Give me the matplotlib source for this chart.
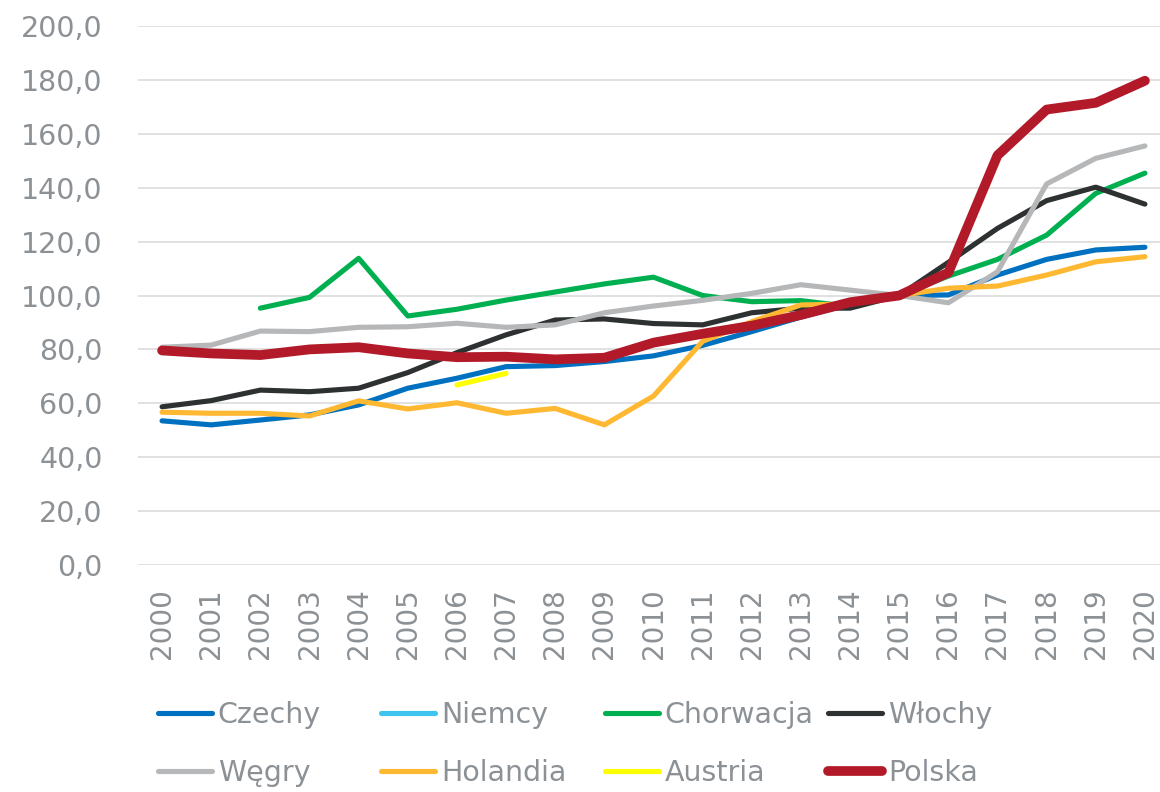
import matplotlib
matplotlib.use("Agg")
import matplotlib.pyplot as plt
import numpy as np

nan = np.nan
years = [str(y) for y in range(2000, 2021)]

czechy = [53.5, 52.0, 53.8, 55.7, 59.4, 65.6, 69.3, 73.6, 74.0, 75.5, 77.6,
          81.5, 86.6, 92.0, 96.8, 100.0, 100.2, 107.6, 113.4, 116.9, 117.9]
niemcy = [nan] * 21
chorwacja = [nan, nan, 95.3, 99.3, 113.8, 92.4, 94.9, 98.3, 101.3, 104.3, 106.8,
             100.0, 97.7, 98.1, 95.9, 100.0, 107.2, 113.4, 122.4, 137.9, 145.4]
wlochy = [58.7, 61.0, 64.9, 64.3, 65.6, 71.4, 78.8, 85.4, 90.9, 91.3, 89.6,
          89.1, 93.6, 95.3, 95.3, 100.0, 112.3, 124.9, 135.2, 140.2, 133.9]
wegry = [80.8, 81.6, 86.8, 86.6, 88.2, 88.4, 89.7, 88.2, 89.1, 93.6, 96.1,
         98.2, 100.8, 104.0, 102.0, 100.0, 97.3, 108.8, 141.4, 150.9, 155.5]
holandia = [56.7, 56.3, 56.3, 55.3, 60.9, 57.9, 60.2, 56.3, 58.1, 52.0, 62.7,
            83.0, 90.3, 96.5, 96.8, 100.0, 102.7, 103.5, 107.6, 112.5, 114.4]
austria = [nan] * 6 + [66.8, 71.1] + [nan] * 13
polska = [79.6, 78.5, 77.9, 80.0, 80.8, 78.5, 77.1, 77.3, 76.3, 76.9, 82.5,
          85.8, 88.8, 92.8, 97.5, 100.0, 108.5, 152.0, 169.0, 171.5, 179.7]

series = [
    ("Czechy", czechy, "#0070c0", 3.7),
    ("Niemcy", niemcy, "#3ec5ef", 3.7),
    ("Chorwacja", chorwacja, "#00b050", 3.7),
    ("Włochy", wlochy, "#2e3131", 3.7),
    ("Węgry", wegry, "#b5b7b9", 3.7),
    ("Holandia", holandia, "#ffb831", 3.7),
    ("Austria", austria, "#ffff00", 3.7),
    ("Polska", polska, "#b21a2a", 7.0),
]

TXT = "#8c9196"
W, H = 1160, 792
fig = plt.figure(figsize=(W / 100, H / 100), dpi=100)
ax = fig.add_axes([137.5 / W, 1 - 565 / H, (1169.5 - 137.5) / W, 539 / H])

x = np.arange(len(years))
handles = []
for name, vals, col, lw in series:
    ln, = ax.plot(x, vals, color=col, lw=lw, label=name,
                  solid_capstyle="round", solid_joinstyle="round")
    handles.append(ln)

ax.set_xlim(-0.5, len(years) - 0.5)
ax.set_ylim(0, 200)
ax.set_yticks(np.arange(0, 201, 20))
ax.set_yticklabels([f"{v:.1f}".replace(".", ",") for v in np.arange(0, 201, 20)])
ax.set_xticks(x)
ax.set_xticklabels(years, rotation=90)
ax.tick_params(axis="y", length=0, pad=25, labelsize=20.5, labelcolor=TXT)
ax.tick_params(axis="x", length=0, pad=17, labelsize=20, labelcolor=TXT)
for s in ax.spines.values():
    s.set_visible(False)
ax.grid(axis="y", color="#dcdcdc", lw=1.2)
ax.set_axisbelow(True)

# legenda: 4 kolumny po 2 pozycje, jak w Excelu
cols_x = [158, 381, 605, 828]
for i, cx in enumerate(cols_x):
    leg = fig.legend([handles[i], handles[i + 4]],
                     [series[i][0], series[i + 4][0]],
                     loc="upper left", bbox_to_anchor=(cx / W, 1 - 701 / H),
                     frameon=False, fontsize=20.5, labelcolor=TXT,
                     handlelength=1.9, handletextpad=0.2, borderpad=0,
                     borderaxespad=0, labelspacing=1.05)

fig.savefig("out.png", dpi=100)
